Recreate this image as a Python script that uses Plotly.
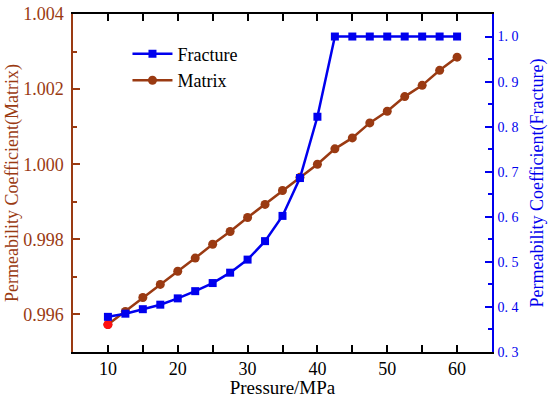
import plotly.graph_objects as go

pressure = [10, 12.5, 15, 17.5, 20, 22.5, 25, 27.5, 30, 32.5, 35, 37.5, 40,
            42.5, 45, 47.5, 50, 52.5, 55, 57.5, 60]
matrix = [0.99573, 0.99608, 0.99645, 0.99680, 0.99715, 0.99750, 0.99787,
          0.99821, 0.99858, 0.99893, 0.99930, 0.99965, 1.00000, 1.00041,
          1.00070, 1.00110, 1.00141, 1.00180, 1.00210, 1.00250, 1.00285]
fracture = [0.378, 0.385, 0.395, 0.405, 0.419, 0.435, 0.453, 0.476, 0.505,
            0.546, 0.602, 0.686, 0.822, 1.0, 1.0, 1.0, 1.0, 1.0, 1.0, 1.0, 1.0]

BROWN = "#9A3A12"
BLUE = "#0000EE"
RED = "#FF1010"
FONT = "Liberation Serif, Times New Roman, serif"

fig = go.Figure()
fig.add_trace(go.Scatter(
    x=pressure, y=fracture, name="Fracture", yaxis="y2",
    mode="lines+markers",
    line=dict(color=BLUE, width=2.5),
    marker=dict(symbol="square", size=8, color=BLUE),
))
fig.add_trace(go.Scatter(
    x=pressure, y=matrix, name="Matrix", yaxis="y",
    mode="lines+markers",
    line=dict(color=BROWN, width=2.5),
    marker=dict(symbol="circle", size=9, color=BROWN),
))
fig.add_trace(go.Scatter(
    x=pressure[:1], y=matrix[:1], yaxis="y", showlegend=False,
    mode="markers", marker=dict(symbol="circle", size=9, color=RED),
))

fig.update_layout(
    width=550, height=398,
    margin=dict(l=73, r=58, t=14, b=46),
    paper_bgcolor="white", plot_bgcolor="white",
    font=dict(family=FONT, size=17, color="black"),
    showlegend=True,
    legend=dict(x=0.13, y=0.936, xanchor="left", yanchor="top",
                bgcolor="rgba(0,0,0,0)", font=dict(size=18, family=FONT),
                tracegroupgap=0, itemwidth=40),
    xaxis=dict(
        range=[5, 65], tickvals=[10, 20, 30, 40, 50, 60],
        showline=True, linecolor="black", linewidth=1.5, mirror="allticks",
        ticks="inside", ticklen=7, tickcolor="black", tickwidth=1.5,
        minor=dict(tickvals=[15, 25, 35, 45, 55], ticks="inside", ticklen=4,
                   tickcolor="black", tickwidth=1.5),
        showgrid=False, zeroline=False, automargin=False,
        ticklabeloverflow="allow",
        title=dict(text="Pressure/MPa", font=dict(size=19, family=FONT), standoff=7),
        tickfont=dict(size=18, family=FONT),
    ),
    yaxis=dict(
        range=[0.995, 1.004],
        tickvals=[0.996, 0.998, 1.000, 1.002, 1.004],
        ticktext=["0.996", "0.998", "1.000", "1.002", "1.004"],
        showline=True, linecolor=BROWN, linewidth=1.5,
        ticks="inside", ticklen=7, tickcolor=BROWN, tickwidth=1.5,
        minor=dict(tickvals=[0.995, 0.997, 0.999, 1.001, 1.003], ticks="inside",
                   ticklen=4, tickcolor=BROWN, tickwidth=1.5),
        showgrid=False, zeroline=False, automargin=False,
        ticklabelstandoff=4, ticklabeloverflow="allow",
        tickfont=dict(size=18, color=BROWN, family=FONT),
        title=dict(text="Permeability Coefficient(Matrix)",
                   font=dict(size=18, color=BROWN, family=FONT), standoff=0),
    ),
    yaxis2=dict(
        range=[0.3, 1.05], overlaying="y", side="right",
        tickvals=[0.3, 0.4, 0.5, 0.6, 0.7, 0.8, 0.9, 1.0],
        ticktext=["0. 3", "0. 4", "0. 5", "0. 6", "0. 7", "0. 8", "0. 9", "1. 0"],
        showline=True, linecolor=BLUE, linewidth=1.5,
        ticks="inside", ticklen=7, tickcolor=BLUE, tickwidth=1.5,
        minor=dict(tickvals=[0.35, 0.45, 0.55, 0.65, 0.75, 0.85, 0.95, 1.05],
                   ticks="inside", ticklen=4, tickcolor=BLUE, tickwidth=1.5),
        showgrid=False, zeroline=False, automargin=False,
        ticklabelstandoff=1, ticklabeloverflow="allow",
        tickfont=dict(size=14, color=BLUE, family=FONT),
        title=dict(text="Permeability Coefficient(Fracture)",
                   font=dict(size=18, color=BLUE, family=FONT), standoff=13),
    ),
)

fig.write_html("out.html", config={"displayModeBar": False},
               post_script="document.body.style.margin='0';")
